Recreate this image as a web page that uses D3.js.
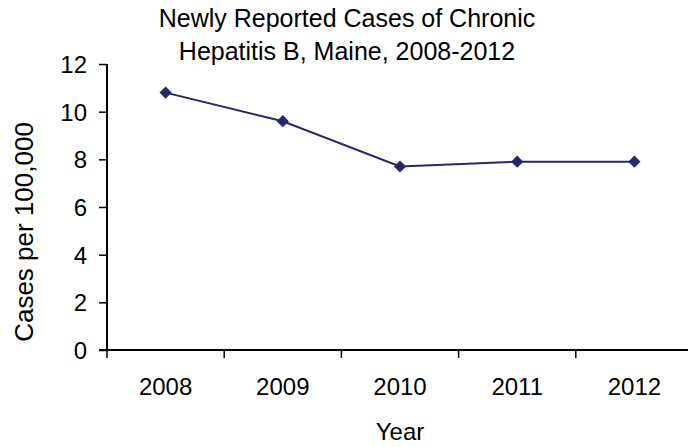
<!DOCTYPE html>
<html>
<head>
<meta charset="utf-8">
<script src="https://cdn.jsdelivr.net/npm/d3@7"></script>
<style>
  body { margin: 0; background: #fff; }
  text { font-family: "Liberation Sans", Arial, sans-serif; fill: #000; }
</style>
</head>
<body>
<svg id="chart" width="688" height="447"></svg>
<script>
// Chronic hepatitis B rates, Maine
const years = ["2008", "2009", "2010", "2011", "2012"];
const rates = [10.8, 9.6, 7.7, 7.9, 7.9];
const yTicks = [0, 2, 4, 6, 8, 10, 12];
const titleLines = ["Newly Reported Cases of Chronic", "Hepatitis B, Maine, 2008-2012"];

const svg = d3.select("#chart");
const plot = { left: 107, right: 693, top: 64, bottom: 350 };
const lineColor = "#262670";
const tickLen = 8;

const x = d3.scaleBand().domain(years).range([plot.left, plot.right]);
const y = d3.scaleLinear().domain([0, 12]).range([plot.bottom, plot.top]);

// Y axis
const yAxis = svg.append("g")
  .attr("transform", `translate(${plot.left},0)`)
  .call(d3.axisLeft(y).tickValues(yTicks).tickSize(tickLen).tickPadding(12).tickFormat(d3.format("d")));
yAxis.attr("font-size", null).attr("font-family", null);
yAxis.selectAll("text").style("font-size", "24px").attr("dy", "0.35em");
yAxis.select(".domain").attr("stroke-width", 2).attr("d", `M0,${plot.top}V${plot.bottom}`);
yAxis.selectAll(".tick line").attr("stroke-width", 1.5);

// X axis: ticks sit between categories
const xAxis = svg.append("g").attr("transform", `translate(0,${plot.bottom})`);
xAxis.append("line").attr("x1", plot.left - tickLen).attr("x2", plot.right).attr("stroke", "#000").attr("stroke-width", 2);
xAxis.selectAll("line.tick").data(years.map(d => x(d))).join("line")
  .attr("class", "tick")
  .attr("x1", d => d).attr("x2", d => d).attr("y1", 0).attr("y2", tickLen)
  .attr("stroke", "#000").attr("stroke-width", 1.5);
xAxis.selectAll("text").data(years).join("text")
  .attr("x", d => x(d) + x.bandwidth() / 2)
  .attr("y", 45)
  .attr("text-anchor", "middle")
  .style("font-size", "24px")
  .text(d => d);

// Series line and diamond markers
const cx = d => x(d) + x.bandwidth() / 2;
svg.append("path")
  .datum(years.map((d, i) => [cx(d), y(rates[i])]))
  .attr("fill", "none")
  .attr("stroke", lineColor)
  .attr("stroke-width", 2)
  .attr("d", d3.line());

svg.selectAll("path.marker").data(years).join("path")
  .attr("class", "marker")
  .attr("transform", (d, i) => `translate(${cx(d)},${y(rates[i])})`)
  .attr("d", d3.symbol(d3.symbolDiamond2, 95))
  .attr("fill", lineColor);

// Title
svg.append("g").selectAll("text").data(titleLines).join("text")
  .attr("x", 347)
  .attr("y", (d, i) => 27 + i * 32.5)
  .attr("text-anchor", "middle")
  .style("font-size", "25px")
  .text(d => d);

// Axis titles
svg.append("text")
  .attr("x", 400).attr("y", 440)
  .attr("text-anchor", "middle")
  .style("font-size", "24px")
  .text("Year");

svg.append("text")
  .attr("transform", "translate(33,232) rotate(-90)")
  .attr("text-anchor", "middle")
  .style("font-size", "26px")
  .text("Cases per 100,000");
</script>
</body>
</html>
